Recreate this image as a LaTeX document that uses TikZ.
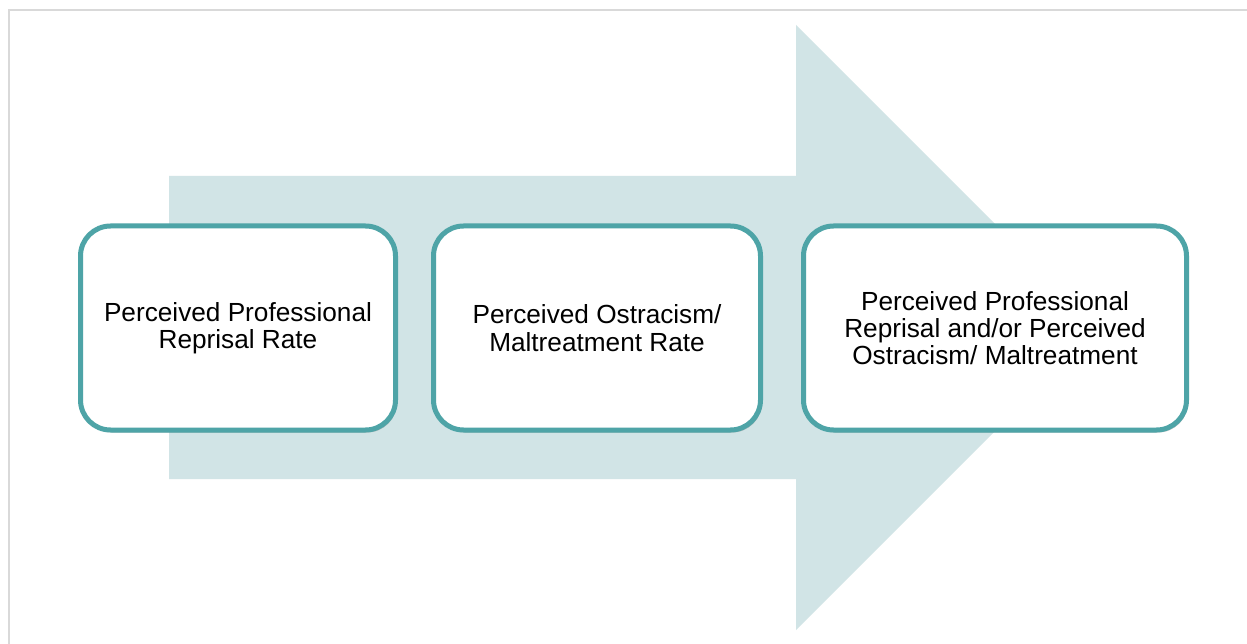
\documentclass[tikz,border=0pt]{standalone}
\usepackage{fontspec}
\setmainfont{Liberation Sans}
\usetikzlibrary{shadows}
\definecolor{arrowfill}{HTML}{D1E4E6}
\definecolor{boxline}{HTML}{4EA4A7}
\definecolor{framegray}{HTML}{D9D9D9}
\begin{document}
\begin{tikzpicture}[x=1pt,y=-1pt,
  stagebox/.style={draw=boxline, line width=5pt, fill=white, rounded corners=30pt,
    minimum height=204pt, align=center, inner sep=0pt,
    font=\fontsize{26.2}{27.3}\selectfont,
    drop shadow={opacity=0.35, shadow xshift=1.5pt, shadow yshift=-2.5pt, fill=black!60}}]
\useasboundingbox (0,0) rectangle (1247,644);
\fill[white] (0,0) rectangle (1247,644);
\draw[framegray, line width=2pt] (9,644) -- (9,10) -- (1247,10);
% big arrow
\fill[arrowfill] (169,176) -- (796,176) -- (796,25) -- (1098.5,327.5) -- (796,630) -- (796,479) -- (169,479) -- cycle;
\node[stagebox, minimum width=315pt] (b1) at (238,328) {Perceived Professional\\Reprisal Rate};
\node[stagebox, minimum width=327pt] (b2) at (597,328) {Perceived Ostracism/\\Maltreatment Rate};
\node[stagebox, minimum width=383pt] (b3) at (995,328) {Perceived Professional\\Reprisal and/or Perceived\\Ostracism/ Maltreatment};
\end{tikzpicture}
\end{document}
